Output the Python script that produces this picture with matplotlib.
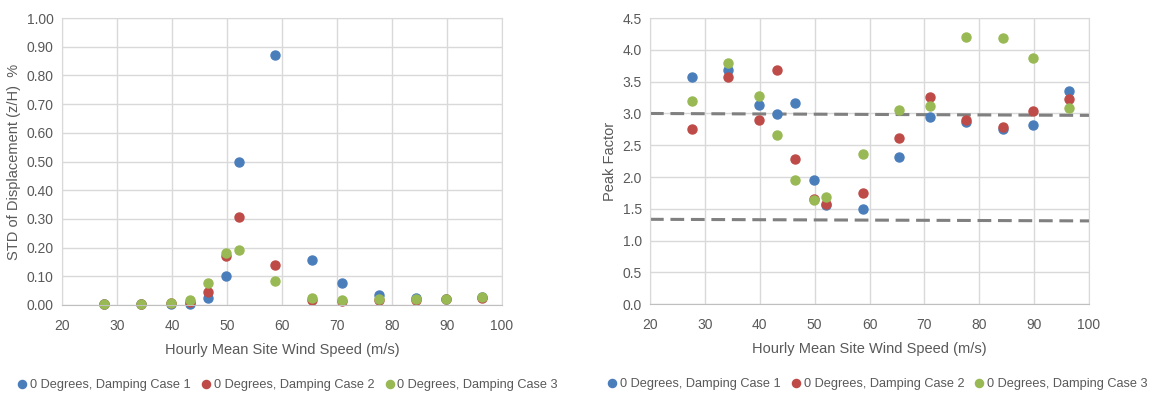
import matplotlib
matplotlib.use('Agg')
import matplotlib.pyplot as plt

plt.rcParams['font.family'] = ['Liberation Sans', 'DejaVu Sans']

speed = [27.6, 34.3, 39.8, 43.2, 46.5, 49.9, 52.1, 58.8, 65.4, 71.0, 77.6, 84.3, 89.8, 96.4]

# STD of displacement (z/H) %
std_case1 = [0.002, 0.004, 0.005, 0.005, 0.025, 0.10, 0.50, 0.87, 0.155, 0.078, 0.036, 0.024, 0.020, 0.026]
std_case2 = [0.002, 0.004, 0.006, 0.010, 0.045, 0.17, 0.305, 0.14, 0.018, 0.013, 0.016, 0.016, 0.020, 0.025]
std_case3 = [0.002, 0.005, 0.007, 0.017, 0.078, 0.18, 0.19, 0.085, 0.025, 0.018, 0.020, 0.020, 0.020, 0.028]

# Peak factor
pf_case1 = [3.57, 3.68, 3.13, 2.99, 3.16, 1.96, 1.56, 1.50, 2.31, 2.95, 2.86, 2.75, 2.82, 3.35]
pf_case2 = [2.75, 3.58, 2.89, 3.68, 2.29, 1.65, 1.57, 1.75, 2.62, 3.26, 2.89, 2.79, 3.04, 3.22]
pf_case3 = [3.19, 3.80, 3.27, 2.66, 1.96, 1.64, 1.68, 2.36, 3.05, 3.12, 4.21, 4.19, 3.87, 3.08]

ref_x = [20, 100]
ref_upper = [3.0, 2.97]
ref_lower = [1.335, 1.31]

labels = ['0 Degrees, Damping Case 1', '0 Degrees, Damping Case 2', '0 Degrees, Damping Case 3']
colors = ['#4A7EBB', '#BE4B48', '#98B954']
grid_c = '#D9D9D9'
text_c = '#595959'

fig = plt.figure(figsize=(11.69, 3.94), dpi=100)
ax1 = fig.add_axes([0.053, 0.226, 0.3764, 0.728])
ax2 = fig.add_axes([0.556, 0.228, 0.3756, 0.726])


def style(ax):
    ax.set_xlim(20, 100)
    ax.set_xticks(range(20, 101, 10))
    ax.grid(True, color=grid_c, linewidth=1)
    ax.set_axisbelow(True)
    for s in ax.spines.values():
        s.set_color(grid_c)
    ax.spines['bottom'].set_color('#BFBFBF')
    ax.tick_params(length=0, colors=text_c, labelsize=10, pad=6)
    ax.tick_params(axis='x', pad=10)
    ax.set_xlabel('Hourly Mean Site Wind Speed (m/s)', color=text_c, fontsize=10.5, labelpad=7)


def add_legend(ax, handles, xc):
    ax.legend(handles, labels, loc='center', bbox_to_anchor=(xc, -0.28), ncol=3,
              frameon=False, fontsize=9.2, labelcolor=text_c, handletextpad=0.0,
              columnspacing=0.6, handlelength=1.2, markerscale=0.9)


for ys, c, lab in zip([std_case1, std_case2, std_case3], colors, labels):
    ax1.plot(speed, ys, 'o', color=c, ms=6.5, label=lab, clip_on=False)
style(ax1)
ax1.set_ylim(0, 1.0)
ax1.set_yticks([i / 10 for i in range(11)])
ax1.set_yticklabels([f'{i / 10:.2f}' for i in range(11)])
ax1.set_ylabel('STD of Displacement (z/H)  %', color=text_c, fontsize=10.5)
add_legend(ax1, ax1.get_lines(), 0.51)

ax2.plot(ref_x, ref_upper, color='#808080', lw=2.2, dashes=(4.5, 2.2))
ax2.plot(ref_x, ref_lower, color='#808080', lw=2.2, dashes=(4.5, 2.2))
for ys, c, lab in zip([pf_case1, pf_case2, pf_case3], colors, labels):
    ax2.plot(speed, ys, 'o', color=c, ms=6.5, label=lab, clip_on=False)
style(ax2)
ax2.set_ylim(0, 4.5)
ax2.set_yticks([i / 2 for i in range(10)])
ax2.set_yticklabels([f'{i / 2:.1f}' for i in range(10)])
ax2.set_ylabel('Peak Factor', color=text_c, fontsize=10.5)
add_legend(ax2, ax2.get_lines()[2:], 0.515)

fig.savefig('out.png', dpi=100)
